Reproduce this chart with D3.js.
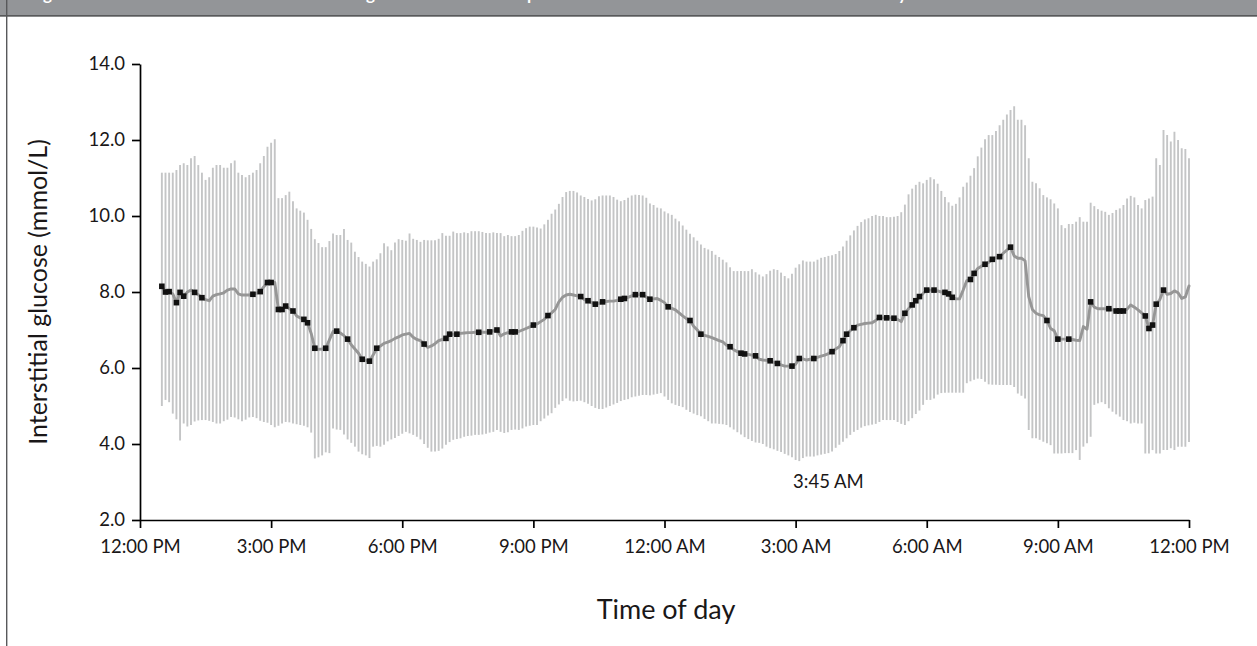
<!DOCTYPE html>
<html><head><meta charset="utf-8">
<script src="https://cdn.jsdelivr.net/npm/d3@7"></script>
<style>
html,body{margin:0;padding:0;background:#fff;}
svg{display:block;font-family:Lato,"Open Sans",sans-serif;}
</style>
</head><body>
<svg id="chart" width="1257" height="646"></svg>
<script>
// ---- data ----
const startTime = new Date(2000, 0, 1, 12, 30); // first reading 12:30 PM
const intervalMinutes = 5;

// top of each vertical bar (mmol/L)
const upper = [
11.14,11.14,11.14,11.14,11.21,11.34,11.39,11.34,11.52,11.58,
11.34,11.14,10.95,11.02,11.27,11.34,11.34,11.27,11.27,11.39,
11.46,11.14,11.08,11.02,11.08,11.14,11.21,11.39,11.58,11.82,
11.93,12.02,10.47,10.47,10.55,10.64,10.39,10.2,10.14,10.09,
9.9,9.66,9.39,9.29,9.18,9.18,9.34,9.54,9.5,9.5,
9.66,9.37,9.3,9.06,8.92,8.8,8.74,8.67,8.8,8.86,
9.02,9.28,9.2,9.1,9.3,9.39,9.37,9.35,9.54,9.4,
9.37,9.32,9.37,9.36,9.36,9.36,9.4,9.55,9.48,9.48,
9.59,9.55,9.55,9.57,9.55,9.6,9.6,9.6,9.58,9.55,
9.55,9.57,9.55,9.55,9.47,9.5,9.47,9.47,9.5,9.61,
9.68,9.72,9.72,9.7,9.67,9.78,9.9,10.06,10.17,10.32,
10.5,10.63,10.66,10.66,10.62,10.54,10.5,10.45,10.41,10.44,
10.52,10.54,10.54,10.54,10.5,10.43,10.39,10.42,10.48,10.54,
10.56,10.55,10.54,10.48,10.33,10.29,10.22,10.2,10.12,10.07,
10.03,9.93,9.86,9.75,9.64,9.53,9.44,9.35,9.25,9.16,
9.12,9.08,8.98,8.92,8.85,8.78,8.65,8.55,8.55,8.55,
8.55,8.55,8.6,8.52,8.46,8.41,8.47,8.56,8.6,8.58,
8.51,8.42,8.36,8.48,8.64,8.73,8.83,8.8,8.8,8.8,
8.85,8.9,8.92,8.95,8.97,9.0,9.08,9.2,9.35,9.49,
9.62,9.74,9.84,9.91,9.94,10.0,10.03,10.0,10.0,9.97,
9.97,9.98,10.0,10.1,10.3,10.57,10.72,10.82,10.9,10.86,
10.95,11.02,10.97,10.85,10.66,10.5,10.36,10.27,10.32,10.49,
10.77,10.88,11.06,11.26,11.57,11.8,12.02,12.13,12.13,12.24,
12.39,12.53,12.67,12.79,12.89,12.53,12.53,12.39,11.52,10.9,
10.86,10.73,10.55,10.49,10.44,10.33,10.2,9.76,9.68,9.79,
9.79,9.85,9.97,9.85,9.85,10.35,10.26,10.18,10.14,10.11,
10.03,10.08,10.16,10.2,10.29,10.46,10.53,10.49,10.29,10.2,
10.42,10.46,10.51,11.52,11.34,12.26,12.13,11.96,12.22,12.0,
11.78,11.76,11.52
];

// bottom of each vertical bar (mmol/L)
const lower = [
5.0,5.16,5.1,4.8,4.65,4.09,4.54,4.46,4.5,4.59,
4.62,4.63,4.63,4.61,4.58,4.54,4.54,4.6,4.64,4.71,
4.7,4.65,4.6,4.64,4.7,4.71,4.68,4.61,4.58,4.56,
4.5,4.44,4.48,4.54,4.58,4.57,4.54,4.52,4.5,4.48,
4.44,4.3,3.62,3.65,3.7,3.78,3.76,4.41,4.38,4.37,
4.25,4.12,4.03,3.93,3.8,3.73,3.7,3.63,3.93,3.95,
3.93,3.98,4.07,4.12,4.16,4.21,4.27,4.32,4.28,4.24,
4.19,4.12,4.0,3.9,3.8,3.8,3.82,3.88,3.98,4.05,
4.11,4.13,4.15,4.19,4.21,4.22,4.24,4.24,4.25,4.27,
4.3,4.32,4.37,4.32,4.29,4.31,4.37,4.38,4.37,4.41,
4.46,4.48,4.5,4.5,4.6,4.67,4.75,4.81,4.95,5.04,
5.13,5.2,5.14,5.12,5.13,5.14,5.1,5.06,5.0,4.95,
4.92,4.92,4.96,5.0,5.04,5.08,5.13,5.16,5.18,5.23,
5.25,5.27,5.29,5.29,5.28,5.3,5.32,5.34,5.25,5.16,
5.07,5.03,5.0,4.97,4.9,4.84,4.8,4.76,4.73,4.66,
4.6,4.54,4.54,4.53,4.52,4.5,4.44,4.38,4.31,4.25,
4.18,4.13,4.08,4.04,4.03,4.0,3.93,3.89,3.86,3.82,
3.79,3.74,3.7,3.65,3.58,3.55,3.63,3.67,3.67,3.67,
3.7,3.72,3.74,3.76,3.8,3.9,3.98,4.06,4.15,4.24,
4.32,4.37,4.43,4.47,4.49,4.51,4.53,4.58,4.63,4.63,
4.63,4.63,4.58,4.53,4.5,4.6,4.68,4.79,4.88,5.03,
5.16,5.16,5.2,5.3,5.34,5.35,5.35,5.35,5.35,5.35,
5.35,5.6,5.65,5.69,5.72,5.71,5.64,5.57,5.56,5.56,
5.55,5.55,5.55,5.55,5.5,5.33,5.27,5.2,4.37,4.15,
4.15,4.11,4.06,4.02,3.97,3.75,3.75,3.75,3.76,3.76,
3.76,3.84,3.58,3.93,4.02,4.19,5.03,5.07,5.1,5.05,
4.94,4.85,4.78,4.72,4.63,4.6,4.54,4.56,4.54,4.54,
3.75,3.75,3.84,3.75,3.75,3.84,3.84,3.89,3.84,3.93,
3.93,3.93,4.05
];

// median interstitial glucose (mmol/L)
const median = [
8.15,8.0,8.01,7.95,7.72,7.99,7.89,8.0,8.05,7.99,
7.93,7.85,7.8,7.77,7.89,7.93,7.95,7.98,8.05,8.08,
8.08,7.95,7.92,7.92,7.92,7.94,7.97,8.01,8.14,8.25,
8.25,8.25,7.54,7.54,7.63,7.56,7.5,7.37,7.32,7.28,
7.19,6.91,6.52,6.49,6.5,6.52,6.74,6.96,6.97,6.92,
6.85,6.76,6.61,6.5,6.39,6.23,6.2,6.18,6.34,6.52,
6.58,6.65,6.68,6.72,6.78,6.82,6.87,6.89,6.91,6.81,
6.75,6.72,6.63,6.54,6.58,6.64,6.72,6.75,6.78,6.89,
6.89,6.89,6.91,6.92,6.93,6.93,6.94,6.94,6.94,6.94,
6.95,6.98,7.0,6.84,6.9,6.93,6.95,6.95,6.96,7.0,
7.04,7.08,7.13,7.16,7.22,7.28,7.38,7.45,7.54,7.74,
7.86,7.92,7.94,7.92,7.9,7.88,7.8,7.77,7.72,7.68,
7.7,7.74,7.75,7.76,7.76,7.78,7.81,7.83,7.86,7.9,
7.93,7.93,7.93,7.87,7.81,7.82,7.83,7.78,7.72,7.61,
7.57,7.53,7.45,7.37,7.3,7.25,7.1,7.0,6.89,6.86,
6.83,6.8,6.76,6.72,6.69,6.6,6.56,6.48,6.43,6.39,
6.37,6.36,6.34,6.32,6.23,6.21,6.2,6.19,6.15,6.12,
6.08,6.05,6.05,6.05,6.1,6.25,6.24,6.21,6.23,6.25,
6.28,6.31,6.34,6.38,6.43,6.5,6.56,6.72,6.89,6.98,
7.06,7.13,7.15,7.17,7.18,7.19,7.25,7.33,7.32,7.32,
7.32,7.31,7.28,7.22,7.44,7.56,7.66,7.77,7.88,7.96,
8.05,8.05,8.05,8.03,8.0,7.99,7.95,7.86,7.82,7.82,
8.05,8.3,8.33,8.49,8.62,8.68,8.73,8.78,8.86,8.9,
8.93,9.02,9.1,9.18,8.95,8.89,8.89,8.82,7.88,7.54,
7.44,7.4,7.38,7.25,7.04,6.98,6.76,6.76,6.76,6.76,
6.75,6.73,6.72,7.09,7.02,7.74,7.6,7.56,7.56,7.56,
7.56,7.53,7.5,7.5,7.5,7.55,7.66,7.6,7.53,7.45,
7.37,7.04,7.13,7.68,7.8,8.05,7.94,7.96,8.03,7.98,
7.83,7.87,8.16
];

// readings drawn with a black square marker
const markerIndex = [0,1,2,4,5,6,9,11,25,27,29,30,32,33,34,36,39,40,42,45,48,51,55,57,59,
72,78,79,81,87,90,92,96,97,102,106,115,117,119,121,126,127,130,132,134,139,145,148,156,
159,160,163,167,169,173,175,179,184,187,188,190,197,199,201,204,206,207,208,210,212,215,
216,217,222,223,226,228,230,233,243,246,249,255,260,262,263,264,270,271,272,273,275];

const yTickValues = [2, 4, 6, 8, 10, 12, 14];
const xTickHours = [0, 3, 6, 9, 12, 15, 18, 21, 24];
const xTickLabels = ["12:00 PM","3:00 PM","6:00 PM","9:00 PM","12:00 AM","3:00 AM","6:00 AM","9:00 AM","12:00 PM"];
const annotationLabel = "3:45 AM";
const annotationTime = new Date(2000, 0, 2, 3, 45);
const yTitle = "Interstitial glucose (mmol/L)";
const xTitle = "Time of day";
const headerWords = [
  {x: 29, t: "Figure 2 Median interstitial"},
  {x: 366, t: "glucose"},
  {x: 527, t: "profile across the time of"},
  {x: 880, t: "day"}
];

// ---- drawing ----
const svg = d3.select("#chart");
const W = 1257, H = 646;
const dayStart = new Date(2000, 0, 1, 12, 0);
const dayEnd = new Date(2000, 0, 2, 12, 0);

const x = d3.scaleTime().domain([dayStart, dayEnd]).range([140, 1189]);
const y = d3.scaleLinear().domain([2, 14]).range([520, 64]);

const timeAt = i => new Date(startTime.getTime() + i * intervalMinutes * 60000);
const data = median.map((m, i) => ({t: timeAt(i), m, lo: lower[i], hi: upper[i]}));

// header band
svg.append("rect").attr("x", 0).attr("y", 0).attr("width", W).attr("height", 15).attr("fill", "#939598");
svg.append("rect").attr("x", 0).attr("y", 15).attr("width", W).attr("height", 1.7).attr("fill", "#58595b");
svg.append("rect").attr("x", 6).attr("y", 0).attr("width", 1.4).attr("height", H).attr("fill", "#58595b");
const ht = svg.append("text").attr("y", 0).attr("fill", "#fff")
  .attr("font-weight", "bold").attr("font-size", 17);
headerWords.forEach(w => ht.append("tspan").attr("x", w.x).text(w.t));

// range bars
svg.append("g").selectAll("line").data(data).join("line")
  .attr("x1", d => x(d.t)).attr("x2", d => x(d.t))
  .attr("y1", d => y(d.lo)).attr("y2", d => y(d.hi))
  .attr("stroke", "#c4c5c6").attr("stroke-width", 1.9);

// median line
const line = d3.line().x(d => x(d.t)).y(d => y(d.m));
svg.append("path").datum(data).attr("d", line)
  .attr("fill", "none").attr("stroke", "#969696").attr("stroke-width", 2.9)
  .attr("stroke-linejoin", "round").attr("stroke-linecap", "round");

// markers
svg.append("g").selectAll("rect").data(markerIndex.map(i => data[i])).join("rect")
  .attr("x", d => x(d.t) - 2.8).attr("y", d => y(d.m) - 2.8)
  .attr("width", 5.6).attr("height", 5.6).attr("fill", "#111");

// axes
const yAxis = svg.append("g").attr("transform", "translate(140,0)")
  .call(d3.axisLeft(y).tickValues(yTickValues).tickFormat(d3.format(".1f"))
    .tickSize(8).tickSizeOuter(0).tickPadding(7));
const xAxis = svg.append("g").attr("transform", "translate(0,520)")
  .call(d3.axisBottom(x).tickValues(xTickHours.map(h => new Date(dayStart.getTime() + h * 3600000)))
    .tickFormat((d, i) => xTickLabels[i]).tickSize(8).tickSizeOuter(0).tickPadding(12));
[yAxis, xAxis].forEach(g => {
  g.select(".domain").attr("stroke", "#000").attr("stroke-width", 1.7);
  g.selectAll(".tick line").attr("stroke", "#000").attr("stroke-width", 1.7);
  g.selectAll(".tick text").attr("fill", "#1a1718").attr("font-size", 18.5)
    .attr("font-family", "Lato, 'Open Sans', sans-serif");
});

// annotation
svg.append("text").attr("x", x(annotationTime)).attr("y", 488).attr("text-anchor", "middle")
  .attr("font-size", 18.5).attr("fill", "#1a1718").text(annotationLabel);

// axis titles
svg.append("text").attr("transform", "translate(47,292) rotate(-90)").attr("text-anchor", "middle")
  .attr("font-size", 25).attr("fill", "#1a1718").text(yTitle);
svg.append("text").attr("x", 666).attr("y", 619).attr("text-anchor", "middle")
  .attr("font-size", 27).attr("fill", "#1a1718").text(xTitle);
</script>
</body></html>
